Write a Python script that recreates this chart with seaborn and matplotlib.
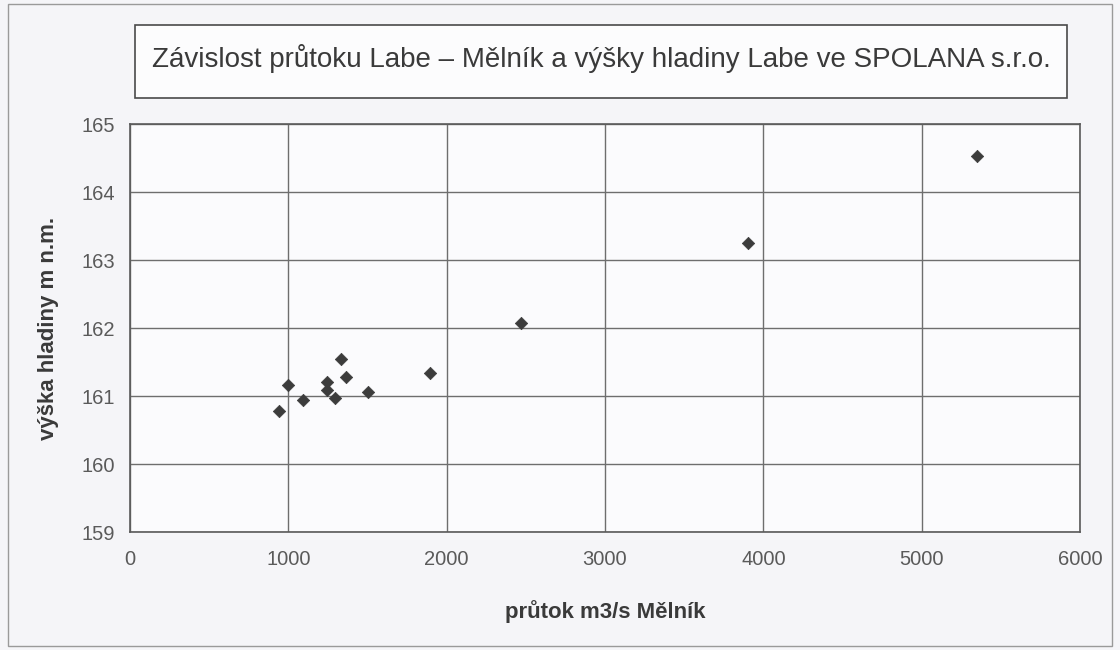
import matplotlib
matplotlib.use("Agg")
import matplotlib.pyplot as plt
import seaborn as sns
import pandas as pd
from matplotlib.patches import Rectangle

# ---- data ----
flow = [941, 998, 1095, 1242, 1246, 1297, 1331, 1365, 1506, 1895, 2468, 3906, 5349]
level = [160.78, 161.16, 160.94, 161.20, 161.09, 160.97, 161.54, 161.28, 161.06,
         161.34, 162.07, 163.25, 164.53]
x_ticks = [0, 1000, 2000, 3000, 4000, 5000, 6000]
y_ticks = [159, 160, 161, 162, 163, 164, 165]
title = "Závislost průtoku Labe – Mělník a výšky hladiny Labe ve SPOLANA s.r.o."
xlabel = "průtok m3/s Mělník"
ylabel = "výška hladiny m n.m."

df = pd.DataFrame({"flow": flow, "level": level})

sns.set_style("white")
plt.rcParams["font.family"] = ["Liberation Sans", "DejaVu Sans"]

W, H = 1120, 650
fig = plt.figure(figsize=(W / 100, H / 100), dpi=100)
fig.patch.set_facecolor("#f5f5f8")

# plot area in pixels
left, right, top, bottom = 130, 1080, 124, 532
ax = fig.add_axes([left / W, 1 - bottom / H, (right - left) / W, (bottom - top) / H])
ax.set_facecolor("#fbfbfd")

sns.scatterplot(data=df, x="flow", y="level", ax=ax, marker="D", s=40,
                color="#3c3c3c", edgecolor="#3c3c3c", linewidth=0.5, zorder=3)

ax.set_xlim(x_ticks[0], x_ticks[-1])
ax.set_ylim(y_ticks[0], y_ticks[-1])
ax.set_xticks(x_ticks)
ax.set_yticks(y_ticks)
ax.grid(True, color="#6e6e6e", linewidth=1.0)
ax.set_axisbelow(True)
for s in ax.spines.values():
    s.set_color("#5a5a5a")
    s.set_linewidth(1.2)
ax.tick_params(axis="both", direction="out", length=5, width=1, color="#6e6e6e",
               labelsize=14.5, labelcolor="#5a5a5a", pad=6)
ax.tick_params(axis="x", pad=8)

ax.set_xlabel(xlabel, fontsize=16, fontweight="bold", color="#3a3a3a", labelpad=22)
ax.set_ylabel(ylabel, fontsize=16, fontweight="bold", color="#3a3a3a", labelpad=16)

# title box
bx0, bx1, by0, by1 = 135, 1067, 25, 98
fig.patches.append(Rectangle((bx0 / W, 1 - by1 / H), (bx1 - bx0) / W, (by1 - by0) / H,
                             transform=fig.transFigure, facecolor="#fcfcfd",
                             edgecolor="#4a4a4a", linewidth=1.2, zorder=1))
fig.text((bx0 + bx1) / 2 / W, 1 - (by0 + by1 - 6) / 2 / H, title, ha="center", va="center",
         fontsize=20, color="#3a3a3a", zorder=2)

# page frame
fig.patches.append(Rectangle((8 / W, 4 / H), (1112 - 8) / W, (646 - 4) / H,
                             transform=fig.transFigure, facecolor="none",
                             edgecolor="#9a9a9a", linewidth=1.0, zorder=0))

fig.savefig("out.png", dpi=100, facecolor=fig.get_facecolor())
